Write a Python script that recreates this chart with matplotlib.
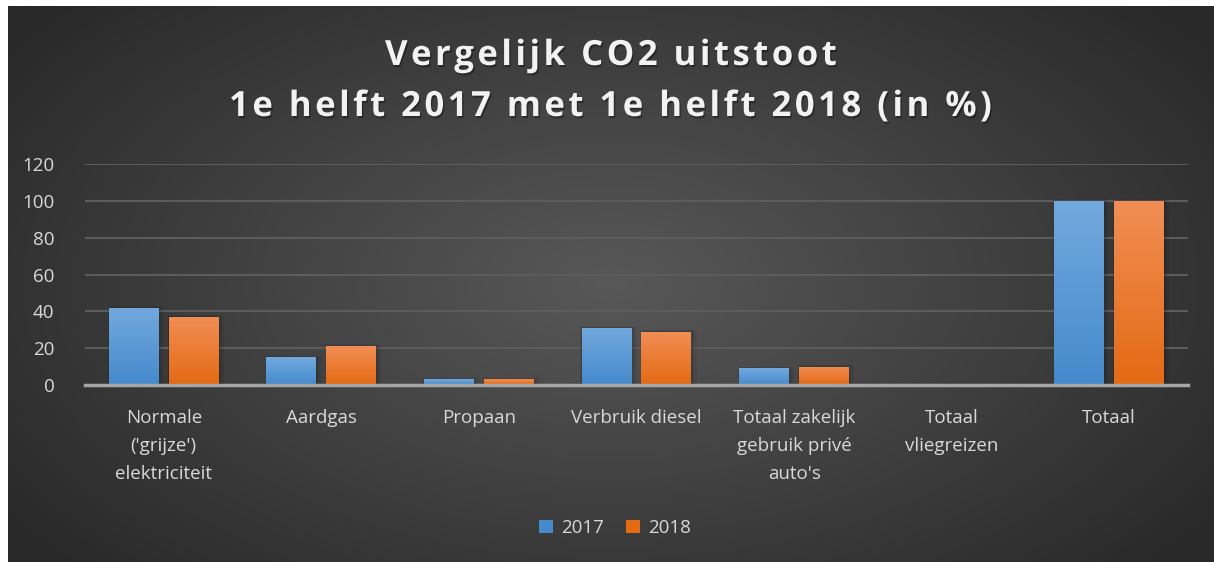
import matplotlib
matplotlib.use("Agg")
import matplotlib.pyplot as plt
import matplotlib.patheffects as pe
import numpy as np
from matplotlib.patches import Rectangle

categories = ["Normale\n('grijze')\nelektriciteit", "Aardgas", "Propaan", "Verbruik diesel",
              "Totaal zakelijk\ngebruik privé\nauto's", "Totaal\nvliegreizen", "Totaal"]
v2017 = [42, 15, 3, 31, 9, 0, 100]
v2018 = [37, 21, 3, 29, 10, 0, 100]
series_names = ["2017", "2018"]
yticks = [0, 20, 40, 60, 80, 100, 120]
title_lines = ["Vergelijk CO2 uitstoot", "1e helft 2017 met 1e helft 2018 (in %)"]

W, H = 1214, 562
fig = plt.figure(figsize=(W / 100, H / 100), dpi=100, facecolor="white")

# background panel with radial gradient
bg = fig.add_axes([8 / W, 0, 1 - 8 / W, 1 - 6 / H])
bg.set_axis_off()
yy, xx = np.mgrid[0:1:300j, 0:1:600j]
r = np.sqrt(((xx - 0.5) / 0.62) ** 2 + ((yy - 0.5) / 0.75) ** 2)
r = np.clip(r, 0, 1)
c_in, c_out = 0x58 / 255, 0x29 / 255
img = c_in + (c_out - c_in) * r
bg.imshow(np.dstack([img, img, img]), extent=[0, 1, 0, 1], aspect="auto", origin="lower")
bg.set_xlim(0, 1)
bg.set_ylim(0, 1)

# main axes
x0, x1 = 85, 1188
ytop, ybot = 164, 385
ax = fig.add_axes([x0 / W, 1 - ybot / H, (x1 - x0) / W, (ybot - ytop) / H])
ax.patch.set_alpha(0)
ax.set_ylim(0, 120)
ax.set_xlim(-0.5, len(categories) - 0.5)

x = np.arange(len(categories))
bw = 0.317
off = 0.19
grad_blue = [(0x72 / 255, 0xa9 / 255, 0xde / 255), (0x45 / 255, 0x8a / 255, 0xcc / 255)]
grad_orange = [(0xf1 / 255, 0x8e / 255, 0x55 / 255), (0xe4 / 255, 0x6a / 255, 0x14 / 255)]


def grad_img(cols):
    t = np.linspace(0, 1, 100)[:, None]
    top, bot = np.array(cols[0]), np.array(cols[1])
    arr = top[None, None, :] * (1 - t[..., None]) + bot[None, None, :] * t[..., None]
    return arr


for vals, dx, cols, name in [(v2017, -off, grad_blue, series_names[0]),
                             (v2018, off, grad_orange, series_names[1])]:
    bars = ax.bar(x + dx, vals, width=bw, color=cols[1], label=name, zorder=3)
    for b in bars:
        h = b.get_height()
        if h <= 0:
            continue
        bx, by, bwid = b.get_x(), b.get_y(), b.get_width()
        # soft shadow
        for k, a in [(0.025, 0.05), (0.015, 0.07), (0.007, 0.08)]:
            ax.add_patch(Rectangle((bx - k * 0.3, by), bwid + k * 1.6, h + k * 40,
                                   facecolor="black", alpha=a, zorder=2, linewidth=0))
        im = ax.imshow(grad_img(cols), extent=[bx, bx + bwid, by, by + h], aspect="auto",
                       zorder=4, origin="upper")
        im.set_clip_path(b)

ax.set_yticks(yticks)
ax.set_yticklabels([str(t) for t in yticks])
ax.yaxis.grid(True, color="#5c5c5c", linewidth=1.5, zorder=0)
ax.set_axisbelow(True)
ax.tick_params(axis="y", length=0, pad=22, labelcolor="#d9d9d9", labelsize=13.5)
ax.tick_params(axis="x", length=0, pad=17, labelcolor="#d9d9d9", labelsize=13.5)
ax.set_xticks(x)
ax.set_xticklabels(categories, linespacing=1.72)
for lbl in ax.get_yticklabels() + ax.get_xticklabels():
    lbl.set_fontfamily("Open Sans")
for s in ["top", "right", "left"]:
    ax.spines[s].set_visible(False)
ax.spines["bottom"].set_color("#a6a6a6")
ax.spines["bottom"].set_linewidth(2.5)
ax.spines["bottom"].set_zorder(5)

# title with letter spacing (hair spaces between characters)
HS = "\u200a"
for line, yc in zip(title_lines, [56, 107]):
    spaced = HS.join(line)
    fig.text(0.5 + 4 / W, 1 - yc / H, spaced, ha="center", va="center", color="#f2f2f2",
             fontsize=25, fontweight="bold", family=["Open Sans", "DejaVu Sans"],
             path_effects=[pe.SimplePatchShadow(offset=(1, -1.5), shadow_rgbFace="black",
                                                alpha=0.35), pe.Normal()])

leg = fig.legend(loc="center", bbox_to_anchor=(615 / W, 1 - 528 / H), ncol=2, frameon=False,
                 handlelength=0.75, handleheight=0.75, handletextpad=0.4, columnspacing=1.2,
                 prop={"family": "Open Sans", "size": 13.5})
for t in leg.get_texts():
    t.set_color("#d9d9d9")
leg.legend_handles[0].set_facecolor(grad_blue[1])
leg.legend_handles[1].set_facecolor(grad_orange[1])

fig.savefig("out.png", dpi=100, facecolor="white")
